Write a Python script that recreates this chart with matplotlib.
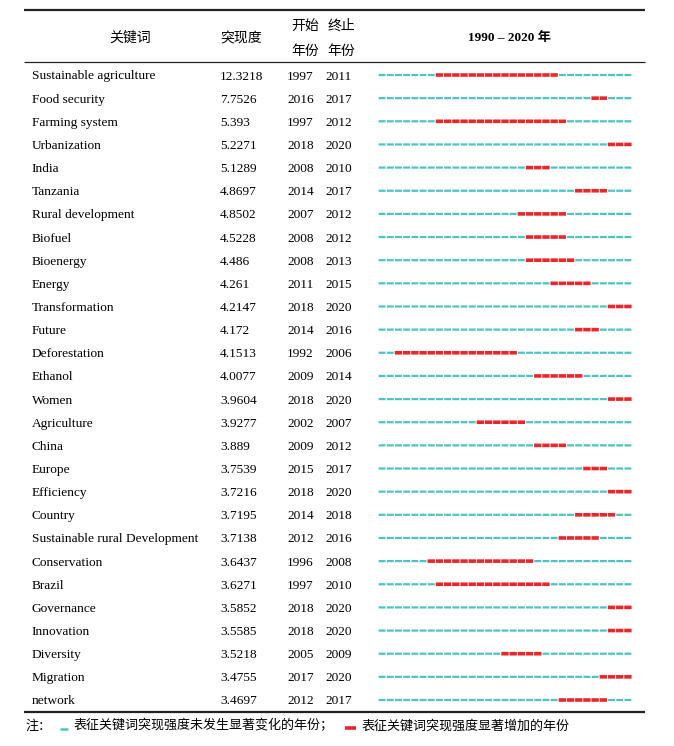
import matplotlib
matplotlib.use("Agg")
import matplotlib.pyplot as plt

keywords = ["Sustainable agriculture", "Food security", "Farming system", "Urbanization", "India",
            "Tanzania", "Rural development", "Biofuel", "Bioenergy", "Energy", "Transformation",
            "Future", "Deforestation", "Ethanol", "Women", "Agriculture", "China", "Europe",
            "Efficiency", "Country", "Sustainable rural Development", "Conservation", "Brazil",
            "Governance", "Innovation", "Diversity", "Migration", "network"]
strength = ["12.3218", "7.7526", "5.393", "5.2271", "5.1289", "4.8697", "4.8502", "4.5228",
            "4.486", "4.261", "4.2147", "4.172", "4.1513", "4.0077", "3.9604", "3.9277", "3.889",
            "3.7539", "3.7216", "3.7195", "3.7138", "3.6437", "3.6271", "3.5852", "3.5585",
            "3.5218", "3.4755", "3.4697"]
begin = [1997, 2016, 1997, 2018, 2008, 2014, 2007, 2008, 2008, 2011, 2018, 2014, 1992, 2009,
         2018, 2002, 2009, 2015, 2018, 2014, 2012, 1996, 1997, 2018, 2018, 2005, 2017, 2012]
end = [2011, 2017, 2012, 2020, 2010, 2017, 2012, 2012, 2013, 2015, 2020, 2016, 2006, 2014,
       2020, 2007, 2012, 2017, 2020, 2018, 2016, 2008, 2010, 2020, 2020, 2009, 2020, 2017]
first_year, last_year = 1990, 2020

SERIF = ["Liberation Serif", "Noto Sans CJK SC"]
CJK = ["Noto Sans CJK SC", "DejaVu Sans"]
CYAN = "#4DC4C4"
RED = "#E8272B"

W, H = 674, 746
fig = plt.figure(figsize=(W / 100, H / 100), dpi=100)
ax = fig.add_axes([0, 0, 1, 1])
ax.set_xlim(0, W)
ax.set_ylim(H, 0)
ax.axis("off")

# rules
ax.plot([24, 645], [10, 10], color="#222222", lw=1.6, solid_capstyle="butt")
ax.plot([24, 645], [62, 62], color="#222222", lw=0.9, solid_capstyle="butt")
ax.plot([24, 645], [712, 712], color="#222222", lw=1.6, solid_capstyle="butt")

# header
hf = 10
ax.text(130, 38, "关键词", family=CJK, fontsize=hf, ha="center", va="center")
ax.text(241, 38, "突现度", family=CJK, fontsize=hf, ha="center", va="center")
ax.text(305, 25.5, "开始", family=CJK, fontsize=hf, ha="center", va="center")
ax.text(305, 50.5, "年份", family=CJK, fontsize=hf, ha="center", va="center")
ax.text(341, 25.5, "终止", family=CJK, fontsize=hf, ha="center", va="center")
ax.text(341, 50.5, "年份", family=CJK, fontsize=hf, ha="center", va="center")
ax.text(510, 38, "1990 – 2020 年", family=SERIF, fontsize=9.5, fontweight="bold",
        ha="center", va="center")

y0, y1 = 75, 700
n = len(keywords)
step = (y1 - y0) / (n - 1)
tf = 9.6
for i in range(n):
    y = y0 + i * step + 1.5
    ax.text(32, y, keywords[i], family=SERIF, fontsize=tf, ha="left", va="center")
    ax.text(220, y, strength[i], family=SERIF, fontsize=tf, ha="left", va="center")
    ax.text(287, y, str(begin[i]), family=SERIF, fontsize=tf, ha="left", va="center")
    ax.text(325, y, str(end[i]), family=SERIF, fontsize=tf, ha="left", va="center")

# burst bars
bx0, bx1 = 378, 632
top = y0 - step / 2
bot = y1 + step / 2
bx = fig.add_axes([bx0 / W, 1 - bot / H, (bx1 - bx0) / W, (bot - top) / H])
bx.set_xlim(first_year, last_year + 1)
bx.set_ylim(n - 0.5, -0.5)
bx.axis("off")
years = list(range(first_year, last_year + 1))
for i in range(n):
    for yr in years:
        if begin[i] <= yr <= end[i]:
            lc = bx.hlines(i, yr + 0.05, yr + 0.95, color=RED, lw=2.6)
        else:
            lc = bx.hlines(i, yr + 0.08, yr + 0.92, color=CYAN, lw=1.6)
        lc.set_snap(False)

# note
nf = 9.4
ax.text(25, 726, "注：", family=CJK, fontsize=nf, ha="left", va="center")
ax.plot([60, 68], [729, 729], color=CYAN, lw=1.8, solid_capstyle="butt")
ax.text(73, 726, "表征关键词突现强度未发生显著变化的年份；", family=CJK, fontsize=nf,
        ha="left", va="center")
ax.plot([345, 356], [728, 728], color=RED, lw=2.6, solid_capstyle="butt")
ax.text(361, 726, "表征关键词突现强度显著增加的年份", family=CJK, fontsize=nf,
        ha="left", va="center")

fig.savefig("out.png", dpi=100)
